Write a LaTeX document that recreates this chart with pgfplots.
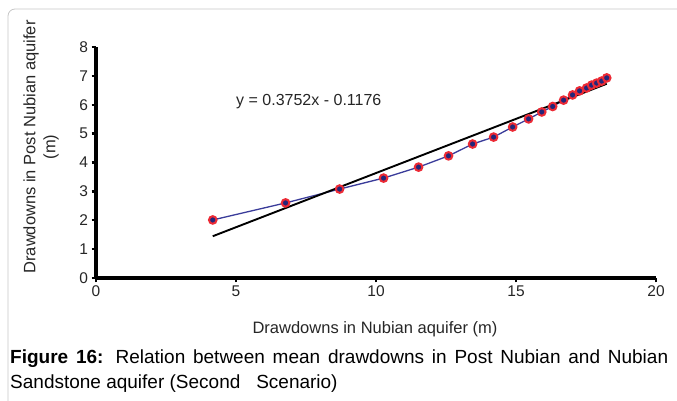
\documentclass[border=0pt]{standalone}
\usepackage{pgfplots}
\pgfplotsset{compat=1.18}
\usepackage{fontspec}
\setmainfont{Liberation Sans}
\definecolor{mk}{HTML}{23267A}
\definecolor{ring}{HTML}{EC2A35}
\definecolor{ln}{HTML}{3A3C9A}
\begin{document}
\begin{tikzpicture}[x=1pt,y=1pt]
\path[use as bounding box] (0,0) rectangle (677,401);
\draw[gray!45, line width=0.8pt, rounded corners=7pt] (8,0) -- (8,392) -- (677,392);
\begin{axis}[
  at={(96pt,123pt)}, anchor=south west, scale only axis,
  width=560pt, height=231pt,
  xmin=0, xmax=20, ymin=0, ymax=8,
  axis lines*=left,
  xtick={0,5,10,15,20}, ytick={0,1,2,3,4,5,6,7,8},
  tick align=outside, major tick length=4.5pt,
  every major tick/.append style={black, line width=2.4pt},
  ytick style={black, line width=2.4pt},
  xtick style={black, line width=2.4pt},
  every outer x axis line/.append style={black, line width=3.2pt},
  every outer y axis line/.append style={black, line width=3.2pt},
  tick label style={font=\fontsize{15.5}{18}\selectfont, text=black!85},
  /pgf/number format/assume math mode=true,
  clip=false,
]
\draw[black, line width=3pt] (axis cs:0,0) -- (axis cs:0,8);
\addplot[ln, line width=1.3pt, mark=*, mark size=3.8pt,
  mark options={fill=mk, draw=ring, line width=2pt}]
coordinates {
(4.17,2.01) (6.77,2.60) (8.70,3.08) (10.27,3.46) (11.52,3.84)
(12.59,4.23) (13.45,4.64) (14.20,4.88) (14.88,5.23) (15.45,5.51)
(15.92,5.75) (16.31,5.94) (16.70,6.16) (17.02,6.34) (17.27,6.48)
(17.52,6.58) (17.70,6.68) (17.88,6.75) (18.06,6.82) (18.24,6.93)
};
\addplot[black, line width=1.9pt] coordinates {(4.17,1.447) (18.24,6.726)};
\node[font=\fontsize{16}{19}\selectfont, text=black!85] at (axis cs:7.6,6.1) {y = 0.3752x - 0.1176};
\end{axis}
\node[rotate=90, font=\fontsize{16.5}{19}\selectfont, text=black!85] at (31,254) {Drawdowns in Post Nubian aquifer};
\node[rotate=90, font=\fontsize{16.5}{19}\selectfont, text=black!85] at (51,254) {(m)};
\node[font=\fontsize{16.5}{19}\selectfont, text=black!85] at (375,72) {Drawdowns in Nubian aquifer (m)};
\node[anchor=base west, inner sep=0pt, font=\fontsize{19}{22}\selectfont] at (10,37)
  {\makebox[658pt][s]{\textbf{Figure 16:} Relation between mean drawdowns in Post Nubian and Nubian}};
\node[anchor=base west, inner sep=0pt, font=\fontsize{19}{22}\selectfont] at (10,12)
  {Sandstone aquifer (Second\ \ \ Scenario)};
\end{tikzpicture}
\end{document}
